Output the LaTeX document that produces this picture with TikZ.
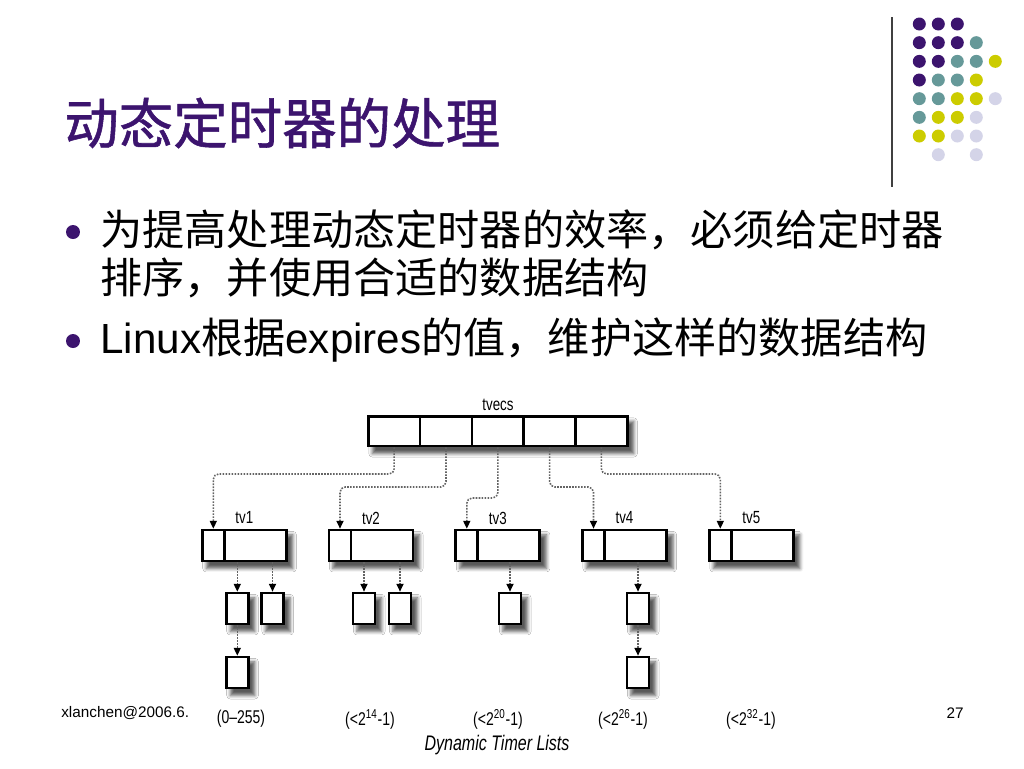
\documentclass[tikz,border=0pt]{standalone}
\usepackage{fontspec}
\setmainfont{Liberation Sans}
\newfontfamily\cjk{Noto Sans CJK SC}
\newfontfamily\cjktitle[FakeBold=1]{Noto Sans CJK SC}
\newfontfamily\cond[FakeStretch=0.76]{Liberation Sans}
\usetikzlibrary{arrows.meta,shadows.blur,backgrounds}
\definecolor{tpurple}{RGB}{60,20,110}
\definecolor{tteal}{RGB}{102,153,153}
\definecolor{tyellow}{RGB}{204,204,0}
\definecolor{tlav}{RGB}{212,212,232}
\definecolor{conngray}{RGB}{100,100,100}
\begin{document}
\begin{tikzpicture}[x=0.02cm,y=-0.02cm,
  cell/.style={draw=black, fill=white, line width=1.5pt, inner sep=0pt},
  shadowed/.style={fill=white, blur shadow={shadow xshift=3pt,shadow yshift=-3.5pt,shadow blur radius=2pt,shadow opacity=65}},
  vcell/.style={cell, minimum width=1.036cm, minimum height=0.59cm},
  scell/.style={cell, minimum width=0.44cm, minimum height=0.62cm},
  bcell/.style={cell, minimum width=1.24cm, minimum height=0.62cm},
  item/.style={cell, minimum width=0.44cm, minimum height=0.62cm},
  conn/.style={draw=conngray, line width=0.9pt, dash pattern=on 0.9pt off 0.8pt,
    rounded corners=3pt, -{Triangle[length=4.5pt,width=4pt,black]}},
  lab/.style={font=\cond\fontsize{10}{12}\selectfont, inner sep=0pt},
  rng/.style={font=\cond\fontsize{10.5}{12}\selectfont, inner sep=0pt},
  dot/.style={radius=0.13cm},
  bullet/.style={radius=0.14cm},
  bodytext/.style={anchor=west, inner sep=0pt, font=\fontsize{24}{28}\selectfont},
  foottext/.style={inner sep=0pt, font=\fontsize{8.7}{10}\selectfont}
]
\useasboundingbox (0,0) rectangle (1024,768);

% decorative dots and rule
\draw[line width=0.8pt, black!75] (892,17) -- (892,187);
\foreach \c/\r/\col in {
  0/0/tpurple,1/0/tpurple,2/0/tpurple,
  0/1/tpurple,1/1/tpurple,2/1/tpurple,3/1/tteal,
  0/2/tpurple,1/2/tpurple,2/2/tteal,3/2/tteal,4/2/tyellow,
  0/3/tpurple,1/3/tteal,2/3/tteal,3/3/tyellow,
  0/4/tteal,1/4/tteal,2/4/tyellow,3/4/tyellow,4/4/tlav,
  0/5/tteal,1/5/tyellow,2/5/tyellow,3/5/tlav,
  0/6/tyellow,1/6/tyellow,2/6/tlav,3/6/tlav,
  1/7/tlav,3/7/tlav}
  \fill[\col] ({919.3+19*\c},{24+18.67*\r}) circle[dot];

% title
\node[anchor=west, inner sep=0pt, text=tpurple, font=\cjktitle\fontsize{31}{36}\selectfont] (title) at (64,123) {动态定时器的处理};

% bullets
\fill[tpurple] (73,232) circle[bullet];
\node[bodytext] (b1) at (100,230) {\cjk 为提高处理动态定时器的效率，必须给定时器};
\node[bodytext] (b1b) at (100,278) {\cjk 排序，并使用合适的数据结构};
\fill[tpurple] (73,341) circle[bullet];
\node[bodytext] (b2) at (100,340) {Linux{\cjk 根据}expires{\cjk 的值，维护这样的数据结构}};

\node[foottext] (page) at (955,713) {27};

% tvecs
\node[lab] (tvecs) at (498,405) {tvecs};
\node[vcell] (c1) at (394.2,431.3) {};
\node[vcell] (c2) at (446.0,431.3) {};
\node[vcell] (c3) at (497.8,431.3) {};
\node[vcell] (c4) at (549.6,431.3) {};
\node[vcell] (c5) at (601.4,431.3) {};

% tv boxes
\foreach \k/\L in {1/202.3,2/329.0,3/455.8,4/582.5,5/709.3}{
  \node[lab] (t\k) at ({\L+42},518) {tv\k};
  \node[scell] (s\k) at ({\L+11},545.5) {};
  \node[bcell] (b\k) at ({\L+53},545.5) {};
}

% list items
\node[item] (i11) at (237.3,608.5) {};
\node[item] (i12) at (272.5,608.5) {};
\node[item] (i13) at (237.3,672.5) {};
\node[item] (i21) at (364,608.5) {};
\node[item] (i22) at (400,608.5) {};
\node[item] (i31) at (510,608.5) {};
\node[item] (i41) at (638,608.5) {};
\node[item] (i42) at (638,672.5) {};

% connectors from tvecs
\coordinate (ha) at (0,474);
\coordinate (hb) at (0,487);
\coordinate (hc) at (0,498);
\draw[conn] (c1.south) -- (c1.south |- ha) -- (s1.north |- ha) -- (s1.north);
\draw[conn] (c2.south) -- (c2.south |- hb) -- (s2.north |- hb) -- (s2.north);
\draw[conn] (c3.south) -- (c3.south |- hc) -- (s3.north |- hc) -- (s3.north);
\draw[conn] (c4.south) -- (c4.south |- hb) -- (s4.north |- hb) -- (s4.north);
\draw[conn] (c5.south) -- (c5.south |- ha) -- (s5.north |- ha) -- (s5.north);

% connectors to list items
\draw[conn] (b1.south -| i11) -- (i11.north);
\draw[conn] (b1.south -| i12) -- (i12.north);
\draw[conn] (i11.south) -- (i13.north);
\draw[conn] (b2.south -| i21) -- (i21.north);
\draw[conn] (b2.south -| i22) -- (i22.north);
\draw[conn] (b3.south -| i31) -- (i31.north);
\draw[conn] (b4.south -| i41) -- (i41.north);
\draw[conn] (i41.south) -- (i42.north);

% range labels
\node[rng] (r1) at (241,719) {(0–255)};
\node[rng] (r2) at (370,719) {(<2\textsuperscript{14}-1)};
\node[rng] (r3) at (498,719) {(<2\textsuperscript{20}-1)};
\node[rng] (r4) at (623,719) {(<2\textsuperscript{26}-1)};
\node[rng] (r5) at (751,719) {(<2\textsuperscript{32}-1)};
\node[inner sep=0pt, font=\cond\itshape\fontsize{12}{14}\selectfont] (cap) at (497,745) {Dynamic Timer Lists};

% background: footer, figure area, shadows
\begin{scope}[on background layer]
  \node[foottext, anchor=west] (foot) at (61,713) {xlanchen@2006.6.1};
  \fill[white] (190,392) rectangle (800,768);
  \path[shadowed] (c1.north west) rectangle (c5.south east);
  \foreach \k in {1,...,5}{
    \path[shadowed] (s\k.north west) rectangle (b\k.south east);
  }
  \foreach \n in {i11,i12,i13,i21,i22,i31,i41,i42}{
    \path[shadowed] (\n.north west) rectangle (\n.south east);
  }
\end{scope}
\end{tikzpicture}
\end{document}
